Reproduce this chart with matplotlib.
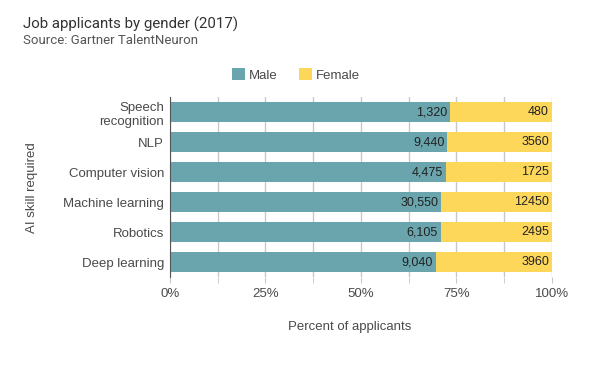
import numpy as np
import matplotlib.pyplot as plt

# Данные
skills = ["Speech\nrecognition", "NLP", "Computer vision",
          "Machine learning", "Robotics", "Deep learning"]
male = [1320, 9440, 4475, 30550, 6105, 9040]
female = [480, 3560, 1725, 12450, 2495, 3960]
male_labels = ["1,320", "9,440", "4,475", "30,550", "6,105", "9,040"]
female_labels = ["480", "3560", "1725", "12450", "2495", "3960"]
ticks = [0, 25, 50, 75, 100]
minor_ticks = [12.5, 37.5, 62.5, 87.5]

male_c = "#6aa5ad"
female_c = "#fdd75a"
txt_c = "#4a4a4a"

plt.rcParams['font.family'] = ['Liberation Sans', 'DejaVu Sans']

male = np.array(male, dtype=float)
female = np.array(female, dtype=float)
total = male + female
male_pct = male / total * 100
female_pct = female / total * 100
y = np.arange(len(skills))

fig = plt.figure(figsize=(6, 3.86), dpi=100)
ax = fig.add_axes([0.283, 0.282, 0.637, 0.466])

ax.barh(y, male_pct, height=0.68, color=male_c, label="Male", zorder=2)
ax.barh(y, female_pct, left=male_pct, height=0.68, color=female_c,
        label="Female", zorder=2)

for i in range(len(skills)):
    ax.text(male_pct[i] - 0.8, y[i], male_labels[i], ha="right", va="center",
            fontsize=9, color="#222222", zorder=3)
    ax.text(99.2, y[i], female_labels[i], ha="right", va="center",
            fontsize=9, color="#222222", zorder=3)

ax.set_ylim(len(skills) - 0.5, -0.5)
ax.set_xlim(0, 100)
ax.set_yticks(y)
ax.set_yticklabels(skills, fontsize=9.5, color=txt_c)
ax.set_xticks(ticks)
ax.set_xticks(minor_ticks, minor=True)
ax.set_xticklabels([f"{t}%" for t in ticks], fontsize=9.5, color=txt_c)
ax.tick_params(axis="y", length=0, pad=4)
ax.tick_params(axis="x", which="both", length=4, color="#c8c8c8", pad=4)
ax.grid(axis="x", which="both", color="#c8c8c8", linewidth=1, zorder=0)
for s in ax.spines.values():
    s.set_visible(False)
ax.spines["left"].set_visible(True)
ax.spines["left"].set_color("#555555")
ax.spines["left"].set_zorder(4)

ax.set_xlabel("Percent of applicants", fontsize=9.5, color=txt_c)
ax.xaxis.set_label_coords(0.47, -0.245)
ax.set_ylabel("AI skill required", fontsize=9.5, color=txt_c)
ax.yaxis.set_label_coords(-0.345, 0.5)

ax.legend(loc="lower center", bbox_to_anchor=(0.33, 1.02), ncol=2, frameon=False,
          fontsize=9.5, handlelength=1, handleheight=1, handletextpad=0.3,
          columnspacing=1.6, labelcolor=txt_c)

fig.text(0.038, 0.925, "Job applicants by gender (2017)", fontsize=10.8,
         color="#333333", family=["Roboto", "DejaVu Sans"])
fig.text(0.038, 0.885, "Source: Gartner TalentNeuron", fontsize=9.5,
         color="#555555", family=["Roboto", "DejaVu Sans"])

fig.savefig("out.png", dpi=100)
